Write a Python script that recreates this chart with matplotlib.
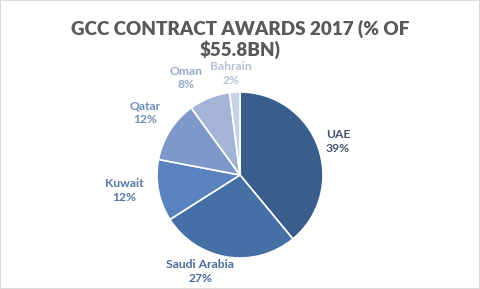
import matplotlib
matplotlib.use("Agg")
import matplotlib.pyplot as plt
from matplotlib.patches import Rectangle

countries = ["UAE", "Saudi Arabia", "Kuwait", "Qatar", "Oman", "Bahrain"]
shares = [39, 27, 12, 12, 8, 2]
slice_colors = ["#3a5e8c", "#4470a6", "#5a82bf", "#7d98c9", "#a3b4d5", "#c8d2e6"]
label_colors = ["#44546a", "#4a6a9a", "#5577aa", "#6f8db8", "#95a8c9", "#b3c1da"]
# label positions in pie radius units (center at 0,0)
label_pos = [(1.18, 0.40), (-0.48, -1.16), (-1.39, -0.19), (-1.14, 0.75), (-0.65, 1.17), (-0.11, 1.22)]

plt.rcParams['font.family'] = ['Lato', 'DejaVu Sans']

W, H = 480, 289
fig = plt.figure(figsize=(W / 100, H / 100), dpi=100)
fig.patch.set_facecolor("white")
fig.patches.append(Rectangle((0, 0), 1, 1, transform=fig.transFigure,
                             fill=False, edgecolor="#d9d9d9", linewidth=1.5))

cx, cy, r = 240, 175, 83
ax = fig.add_axes([(cx - r) / W, (H - cy - r) / H, 2 * r / W, 2 * r / H])
ax.pie(shares, colors=slice_colors, startangle=90, counterclock=False,
       radius=1, wedgeprops=dict(edgecolor="white", linewidth=1.2))
ax.set_xlim(-1, 1)
ax.set_ylim(-1, 1)
ax.set_aspect("equal")
ax.axis("off")

for name, val, (lx, ly), c in zip(countries, shares, label_pos, label_colors):
    ax.text(lx, ly, f"{name}\n{val}%", ha="center", va="center", color=c,
            fontsize=8.7, fontweight="bold", linespacing=1.3, clip_on=False)

fig.text(0.5, 1 - 29 / H, "GCC CONTRACT AWARDS 2017 (% OF", ha="center", va="center",
         fontsize=13.6, fontweight="heavy", color="#595959")
fig.text(0.5, 1 - 50 / H, "$55.8BN)", ha="center", va="center",
         fontsize=13.6, fontweight="heavy", color="#595959")

fig.savefig("out.png", dpi=100)
